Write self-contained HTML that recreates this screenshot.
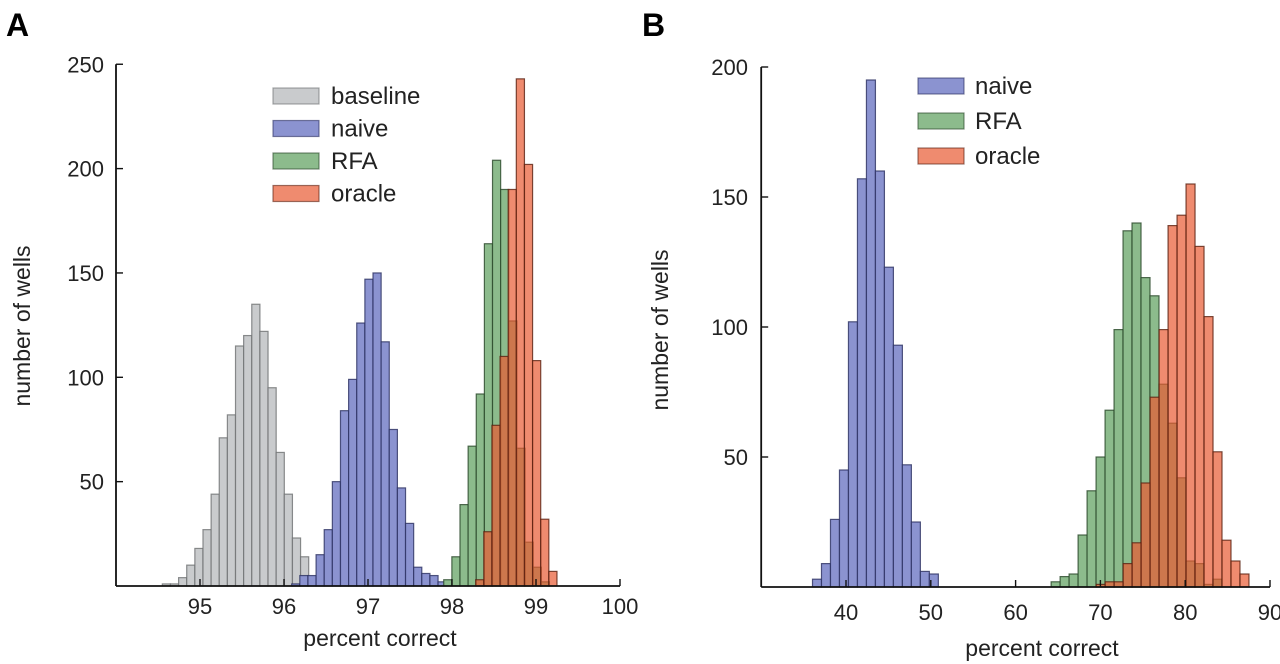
<!DOCTYPE html>
<html><head><meta charset="utf-8">
<style>
html,body{margin:0;padding:0;background:#fff;}
svg{display:block;font-family:"Liberation Sans",Arial,sans-serif;}
</style></head>
<body>
<svg id="fig" width="1280" height="664" viewBox="0 0 1280 664">
  <text x="6" y="36" font-size="32" font-weight="bold">A</text>
  <text x="642" y="36" font-size="32" font-weight="bold">B</text>
  <g id="panelA"></g>
  <g id="panelB"></g>
</svg>
<script>
// ---------- Panel A data ----------
const aXTicks = [95, 96, 97, 98, 99, 100];
const aYTicks = [50, 100, 150, 200, 250];
const aBaselineStart = 94.60;
const aBaselineCounts = [1,1,4,10,18,27,44,71,82,115,120,135,122,95,64,44,23,14];
const aNaiveStart = 96.14;
const aNaiveCounts = [1,5,5,15,27,50,84,99,126,147,150,117,75,47,30,9,6,5,2];
const aRfaStart = 97.95;
const aRfaCounts = [3,14,39,67,92,164,204,190,127,66,21,9,2];
const aOracleStart = 98.33;
const aOracleCounts = [3,26,77,110,190,243,202,108,32,7];
const aBinWidth = 0.0968;

// ---------- Panel B data ----------
const bXTicks = [40, 50, 60, 70, 80, 90];
const bYTicks = [50, 100, 150, 200];
const bNaiveStart = 36.58;
const bNaiveCounts = [3,9,26,45,102,157,195,160,123,93,47,25,6,5];
const bRfaStart = 64.72;
const bRfaCounts = [2,4,5,20,37,50,68,99,137,140,119,112,78,63,42,10,9,1,3];
const bOracleStart = 70.03;
const bOracleCounts = [1,2,2,9,17,40,73,99,139,143,155,131,104,52,18,10,5];
const bBinWidth = 1.06;

const NS = "http://www.w3.org/2000/svg";
function mk(tag, attrs, parent){
  const e = document.createElementNS(NS, tag);
  for (const k in attrs) e.setAttribute(k, attrs[k]);
  parent.appendChild(e);
  return e;
}

const colors = {
  baseline:{fill:"#c9cbcd", stroke:"#6e7072", op:1},
  naive:{fill:"#8b93d0", stroke:"#2a2f60", op:1},
  rfa:{fill:"#8cbb8c", stroke:"#284628", op:1},
  oracle:{fill:"#e85a32", stroke:"#5a2010", op:0.7}
};

function drawBars(g, start, counts, width, xs, ys, col, name){
  const grp = mk("g", {}, g);
  
  
  counts.forEach((c, i) => {
    const c0 = start + i*width;
    const x0 = xs(c0 - width/2), x1 = xs(c0 + width/2);
    const y0 = ys(c), yb = ys(0);
    const r = mk("rect", {x:x0, y:y0, width:Math.max(0.5, x1-x0), height:Math.max(0.8, yb-y0),
      fill:col.fill, "fill-opacity":col.op, stroke:col.stroke, "stroke-width":1.2, "stroke-opacity":0.8}, grp);
    
    
  });
}

function drawAxes(g, cfg){
  const {xs, ys, xmax, xTicks, yTicks, axisLeft, base, top, ylabX, xlabY, xTitleX, xTitleY, yTitleX, yTitleY} = cfg;
  const ax = mk("line", {x1:axisLeft, y1:base, x2:xs(xmax), y2:base, stroke:"#111", "stroke-width":1.8}, g);
  
  
  const ay = mk("line", {x1:axisLeft, y1:base, x2:axisLeft, y2:top, stroke:"#111", "stroke-width":1.8}, g);
  
  
  xTicks.forEach(t => {
    const tk = mk("line", {x1:xs(t), y1:base, x2:xs(t), y2:base-7, stroke:"#111", "stroke-width":1.4}, g);
    
    
    const tl = mk("text", {x:xs(t), y:xlabY, "font-size":22, "text-anchor":"middle", fill:"#222"}, g);
    tl.textContent = t;
    
    
  });
  yTicks.forEach(t => {
    const tk = mk("line", {x1:axisLeft, y1:ys(t), x2:axisLeft+7, y2:ys(t), stroke:"#111", "stroke-width":1.4}, g);
    
    
    const tl = mk("text", {x:ylabX, y:ys(t)+8, "font-size":22, "text-anchor":"end", fill:"#222"}, g);
    tl.textContent = t;
    
    
  });
  const xt = mk("text", {x:xTitleX, y:xTitleY, "font-size":23, "text-anchor":"middle", fill:"#222"}, g);
  xt.textContent = "percent correct";
  
  
  const yt = mk("text", {x:0, y:0, "font-size":23, "text-anchor":"middle", fill:"#222",
    transform:"translate("+yTitleX+","+yTitleY+") rotate(-90)"}, g);
  yt.textContent = "number of wells";
  
  
}

function drawLegend(g, entries, sx, sy0, dy, textX){
  entries.forEach((en, i) => {
    const cy = sy0 + i*dy;
    const item = mk("g", {}, g);
    
    
    const sw = mk("rect", {x:sx, y:cy-8, width:46, height:16, fill:en.col.fill, "fill-opacity":en.col.op, stroke:en.col.stroke, "stroke-width":1.2, "stroke-opacity":0.6}, item);
    
    
    const tx = mk("text", {x:textX, y:cy+8, "font-size":24, fill:"#222"}, item);
    tx.textContent = en.label;
    
    
  });
}

// ---------- Panel A ----------
(function(){
  const g = document.getElementById("panelA");
  const xmin = 94, xmax = 100, base = 586, pxPerY = 2.087;
  const axisLeft = 116, x100 = 620;
  const xs = v => axisLeft + (v - xmin) * (x100 - axisLeft) / (xmax - xmin);
  const ys = v => base - v * pxPerY;
  drawBars(g, aBaselineStart, aBaselineCounts, aBinWidth, xs, ys, colors.baseline, "baseline");
  drawBars(g, aNaiveStart, aNaiveCounts, aBinWidth, xs, ys, colors.naive, "naive");
  drawBars(g, aRfaStart, aRfaCounts, aBinWidth, xs, ys, colors.rfa, "rfa");
  drawBars(g, aOracleStart, aOracleCounts, aBinWidth, xs, ys, colors.oracle, "oracle");
  drawAxes(g, {xs, ys, xmax, xTicks:aXTicks, yTicks:aYTicks, axisLeft, base, top:ys(250),
    ylabX:104, xlabY:614, xTitleX:380, xTitleY:646, yTitleX:30, yTitleY:326});
  drawLegend(g, [{label:"baseline",col:colors.baseline},{label:"naive",col:colors.naive},{label:"RFA",col:colors.rfa},{label:"oracle",col:colors.oracle}],
    273, 96, 32.5, 331);
})();

// ---------- Panel B ----------
(function(){
  const g = document.getElementById("panelB");
  const xmin = 30, xmax = 90, base = 587, pxPerY = 2.6;
  const x40 = 846, x90 = 1270;
  const xs = v => x40 + (v - 40) * (x90 - x40) / 50;
  const ys = v => base - v * pxPerY;
  const axisLeft = xs(xmin);
  drawBars(g, bNaiveStart, bNaiveCounts, bBinWidth, xs, ys, colors.naive, "naive");
  drawBars(g, bRfaStart, bRfaCounts, bBinWidth, xs, ys, colors.rfa, "rfa");
  drawBars(g, bOracleStart, bOracleCounts, bBinWidth, xs, ys, colors.oracle, "oracle");
  drawAxes(g, {xs, ys, xmax, xTicks:bXTicks, yTicks:bYTicks, axisLeft, base, top:ys(200),
    ylabX:748, xlabY:620, xTitleX:1042, xTitleY:656, yTitleX:668, yTitleY:330});
  drawLegend(g, [{label:"naive",col:colors.naive},{label:"RFA",col:colors.rfa},{label:"oracle",col:colors.oracle}],
    918, 86, 35, 975);
})();
</script>
</body></html>
